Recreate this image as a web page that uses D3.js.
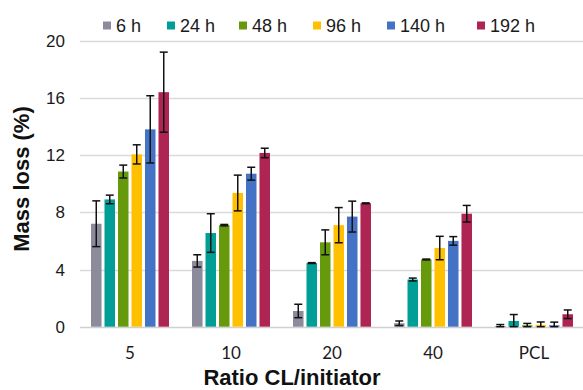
<!DOCTYPE html>
<html>
<head>
<meta charset="utf-8">
<script src="https://cdn.jsdelivr.net/npm/d3@7"></script>
<style>
  body { margin: 0; background: #fff; }
  svg { display: block; }
</style>
</head>
<body>
<div id="chart"></div>
<script>
// data
var categories = ['5', '10', '20', '40', 'PCL'];
var series = ['6 h', '24 h', '48 h', '96 h', '140 h', '192 h'];
var colors = ['#8b8b9c', '#009e97', '#669a0c', '#ffc000', '#4472c4', '#ae2452'];

// mass loss (%) per series, one value per category
var mean6 = [7.2, 4.6, 1.1, 0.24, 0.05];
var mean24 = [8.9, 6.55, 4.45, 3.3, 0.4];
var mean48 = [10.85, 7.1, 5.9, 4.7, 0.1];
var mean96 = [12.05, 9.35, 7.1, 5.5, 0.13];
var mean140 = [13.8, 10.7, 7.7, 6.0, 0.1];
var mean192 = [16.4, 12.15, 8.63, 7.9, 0.87];

// standard deviations
var sd6 = [1.6, 0.43, 0.47, 0.16, 0.1];
var sd24 = [0.3, 1.35, 0.03, 0.1, 0.45];
var sd48 = [0.45, 0.05, 0.87, 0.03, 0.13];
var sd96 = [0.67, 1.25, 1.23, 0.82, 0.2];
var sd140 = [2.35, 0.45, 1.08, 0.3, 0.22];
var sd192 = [2.8, 0.33, 0.03, 0.58, 0.3];

var yTicks = [0, 4, 8, 12, 16, 20];

var means = [mean6, mean24, mean48, mean96, mean140, mean192];
var sds = [sd6, sd24, sd48, sd96, sd140, sd192];

var width = 583, height = 390;
var svg = d3.select('#chart').append('svg')
    .attr('width', width)
    .attr('height', height);

var x0 = d3.scaleBand()
    .domain(categories)
    .range([79.5, 584.5]);

var groupWidth = 78;
var x1 = d3.scaleBand()
    .domain(series)
    .range([0, groupWidth])
    .paddingInner(0.22);

var y = d3.scaleLinear()
    .domain([0, 20])
    .range([326.7, 40.7]);

// gridlines
svg.append('g')
    .selectAll('line')
    .data(yTicks)
    .enter()
    .append('line')
    .attr('x1', 80)
    .attr('x2', width)
    .attr('y1', d => Math.round(y(d)) + 0.5)
    .attr('y2', d => Math.round(y(d)) + 0.5)
    .attr('stroke', d => d === 0 ? '#d0d0d0' : '#dadada')
    .attr('stroke-width', 1.5);

// y tick labels
svg.append('g')
    .selectAll('text')
    .data(yTicks)
    .enter()
    .append('text')
    .attr('x', 65)
    .attr('y', d => y(d))
    .attr('dy', '0.36em')
    .attr('text-anchor', 'end')
    .attr('font-family', 'Liberation Sans, Arial, sans-serif')
    .attr('font-size', 17)
    .attr('fill', '#1a1a1a')
    .text(d => d);

// flatten to bar records
var bars = [];
series.forEach((s, i) => {
    categories.forEach((c, j) => {
        bars.push({ series: s, cat: c, value: means[i][j], sd: sds[i][j], color: colors[i] });
    });
});

var offset = (x0.bandwidth() - groupWidth) / 2;
var barX = d => x0(d.cat) + offset + x1(d.series);

svg.append('g')
    .selectAll('rect')
    .data(bars)
    .enter()
    .append('rect')
    .attr('x', barX)
    .attr('y', d => y(d.value))
    .attr('width', x1.bandwidth())
    .attr('height', d => y(0) - y(d.value))
    .attr('fill', d => d.color);

// error bars
var err = svg.append('g')
    .attr('stroke', '#111')
    .attr('stroke-width', 1.5)
    .selectAll('g')
    .data(bars)
    .enter()
    .append('g');

var capHalf = 4;
err.append('line')
    .attr('x1', d => barX(d) + x1.bandwidth() / 2)
    .attr('x2', d => barX(d) + x1.bandwidth() / 2)
    .attr('y1', d => y(d.value + d.sd))
    .attr('y2', d => y(Math.max(0, d.value - d.sd)));
err.append('line')
    .attr('x1', d => barX(d) + x1.bandwidth() / 2 - capHalf)
    .attr('x2', d => barX(d) + x1.bandwidth() / 2 + capHalf)
    .attr('y1', d => y(d.value + d.sd))
    .attr('y2', d => y(d.value + d.sd));
err.append('line')
    .attr('x1', d => barX(d) + x1.bandwidth() / 2 - capHalf)
    .attr('x2', d => barX(d) + x1.bandwidth() / 2 + capHalf)
    .attr('y1', d => y(Math.max(0, d.value - d.sd)))
    .attr('y2', d => y(Math.max(0, d.value - d.sd)));

// x tick labels
svg.append('g')
    .selectAll('text')
    .data(categories)
    .enter()
    .append('text')
    .attr('x', d => x0(d) + x0.bandwidth() / 2)
    .attr('y', 359)
    .attr('text-anchor', 'middle')
    .attr('font-family', 'Lato, Carlito, sans-serif')
    .attr('font-size', 17)
    .attr('fill', '#1a1a1a')
    .text(d => d);

// axis titles
svg.append('text')
    .attr('x', 292)
    .attr('y', 385)
    .attr('text-anchor', 'middle')
    .attr('font-family', 'Liberation Sans, Arial, sans-serif')
    .attr('font-weight', 'bold')
    .attr('font-size', 22)
    .attr('fill', '#111')
    .text('Ratio CL/initiator');

svg.append('text')
    .attr('transform', 'translate(29,179) rotate(-90)')
    .attr('text-anchor', 'middle')
    .attr('font-family', 'Liberation Sans, Arial, sans-serif')
    .attr('font-weight', 'bold')
    .attr('font-size', 22)
    .attr('fill', '#111')
    .text('Mass loss (%)');

// legend
var legendX = [103, 167, 239, 313, 387, 477];
var legend = svg.append('g')
    .selectAll('g')
    .data(series)
    .enter()
    .append('g')
    .attr('transform', (d, i) => 'translate(' + legendX[i] + ',0)');

legend.append('rect')
    .attr('x', 0)
    .attr('y', 21.5)
    .attr('width', 8)
    .attr('height', 8)
    .attr('fill', (d, i) => colors[i]);

legend.append('text')
    .attr('x', 13)
    .attr('y', 32)
    .attr('font-family', 'Liberation Sans, Arial, sans-serif')
    .attr('font-size', 18)
    .attr('fill', '#1a1a1a')
    .text(d => d);
</script>
</body>
</html>
